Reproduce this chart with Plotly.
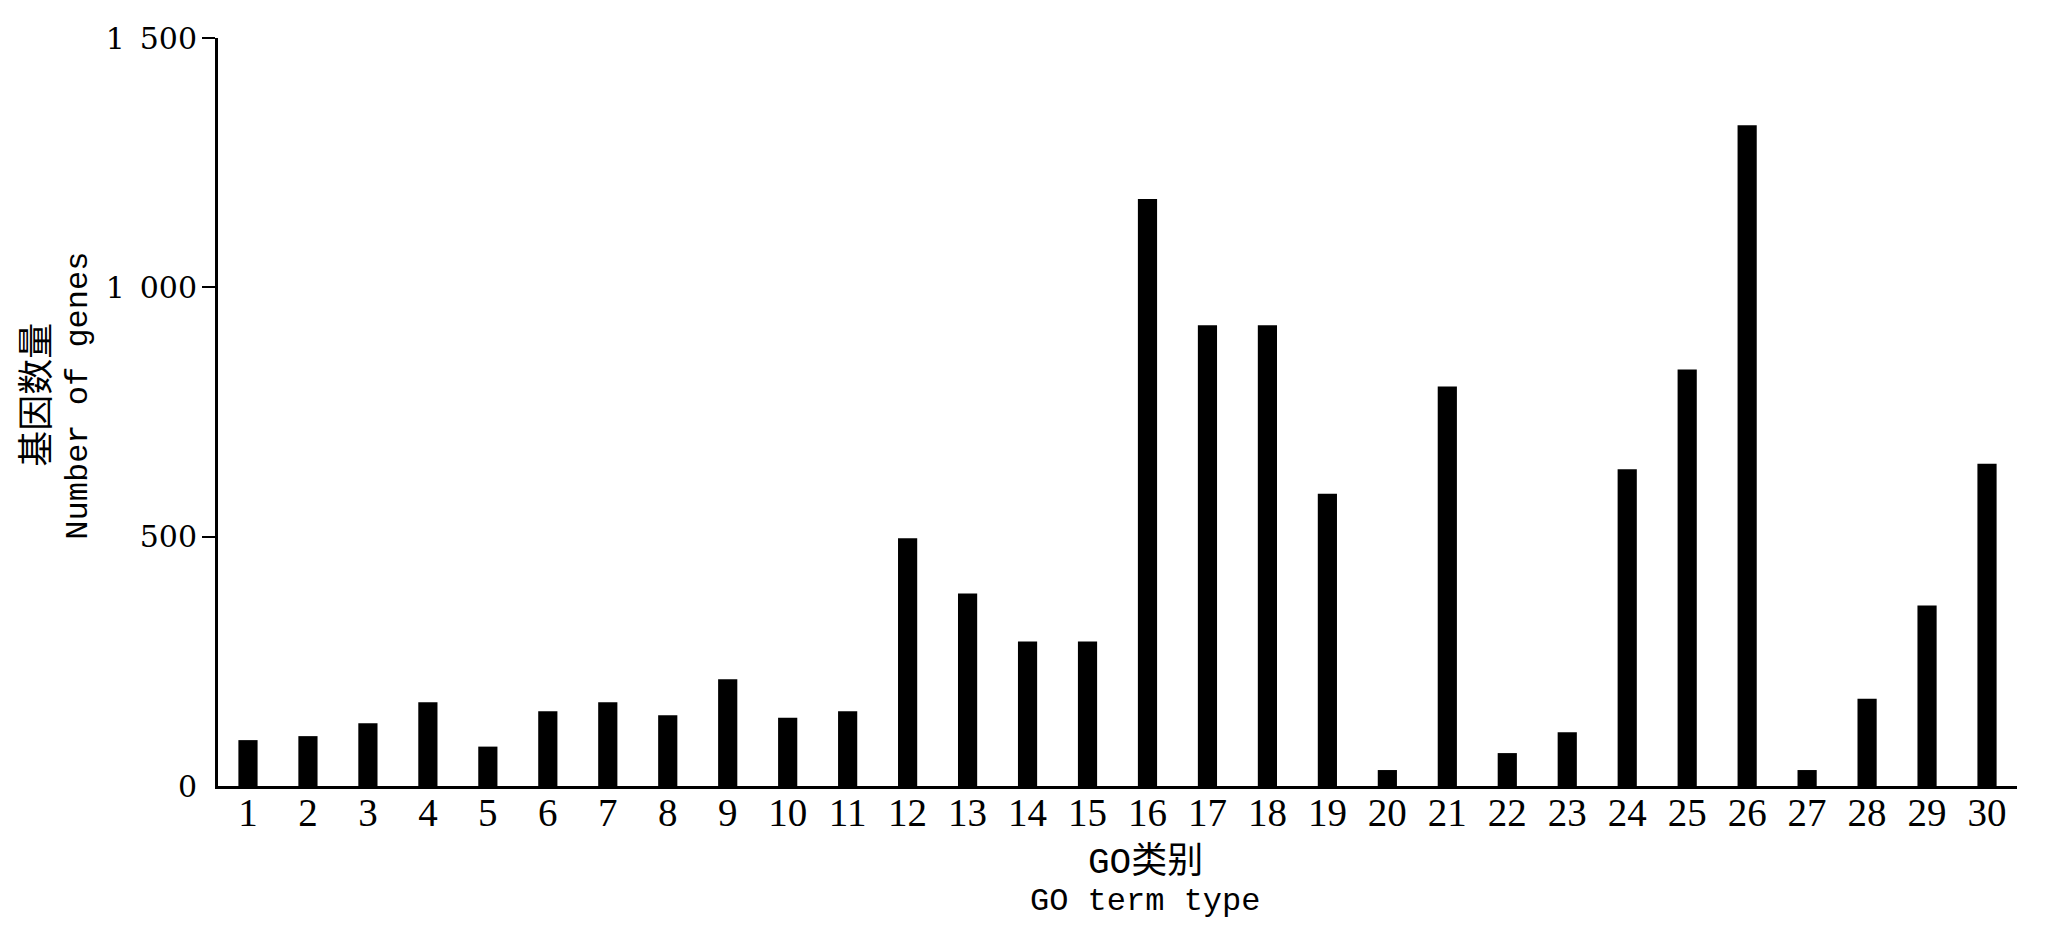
import plotly.graph_objects as go

categories = [str(i) for i in range(1, 31)]
gene_counts = [92, 100, 126, 168, 79, 150, 168, 142, 214, 137, 150, 497, 386, 290, 290,
               1177, 924, 924, 586, 32, 801, 66, 108, 635, 835, 1325, 32, 175, 362, 646]
y_tickvals = [0, 500, 1000, 1500]
y_ticktext = ["0", "500", "1\u2002000", "1\u2002500"]

W, H = 2047, 928
OFF = 8  # page body offset
L, R, T, B = 218 - OFF, 30 + OFF, 31 - OFF, 142 + OFF

fig = go.Figure(go.Bar(
    x=list(range(1, 31)), y=gene_counts, width=0.32,
    marker=dict(color="black", line=dict(width=0)),
))

def px_x(p):
    return (p - 218) / (W - L - R)

def px_y(p):
    return (786 - p) / (H - T - B)

mono = "Liberation Mono, Noto Sans CJK SC"
fig.update_layout(
    width=W, height=H, margin=dict(l=L, r=R, t=T, b=B, pad=0),
    paper_bgcolor="white", plot_bgcolor="white", showlegend=False,
    font=dict(family="Liberation Serif", color="black", size=34),
    xaxis=dict(range=[0.5, 30.5], tickvals=list(range(1, 31)), ticktext=categories,
               showline=True, linecolor="black", linewidth=3, ticks="",
               ticklabelstandoff=-10,
               showgrid=False, zeroline=False, tickfont=dict(size=39, family="Liberation Serif")),
    yaxis=dict(range=[0, 1500], tickvals=y_tickvals, ticktext=y_ticktext,
               showline=True, linecolor="black", linewidth=3, ticks="",
               ticklabelstandoff=12,
               minor=dict(tickvals=[500, 1000, 1500], ticks="outside", ticklen=13,
                          tickwidth=2, tickcolor="black", showgrid=False),
               showgrid=False, zeroline=False, tickfont=dict(size=30, family="DejaVu Serif")),
    annotations=[
        dict(text="GO类别", xref="paper", yref="paper", x=px_x(1145), y=px_y(863),
             showarrow=False, xanchor="center", yanchor="middle",
             font=dict(family=mono, size=36)),
        dict(text="GO term type", xref="paper", yref="paper", x=px_x(1145), y=px_y(903),
             showarrow=False, xanchor="center", yanchor="middle",
             font=dict(family=mono, size=32)),
        dict(text="基因数量", xref="paper", yref="paper", x=px_x(39), y=px_y(391),
             showarrow=False, xanchor="center", yanchor="middle", textangle=-90,
             font=dict(family=mono, size=36)),
        dict(text="Number of genes", xref="paper", yref="paper", x=px_x(79), y=px_y(392),
             showarrow=False, xanchor="center", yanchor="middle", textangle=-90,
             font=dict(family=mono, size=32)),
    ],
)

fig.write_html("out.html")
